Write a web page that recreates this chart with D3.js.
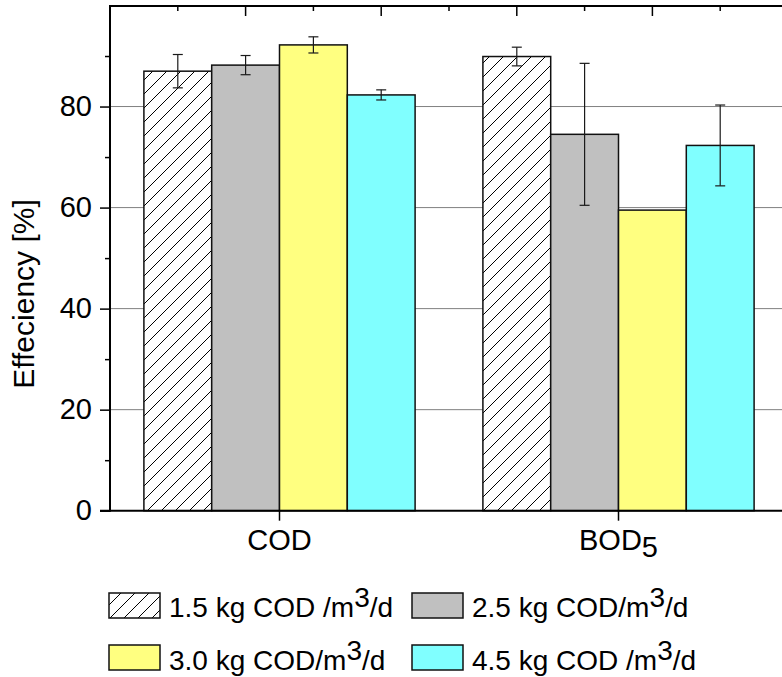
<!DOCTYPE html>
<html>
<head>
<meta charset="utf-8">
<script src="https://cdn.jsdelivr.net/npm/d3@7"></script>
<style>
  html, body { margin: 0; padding: 0; background: #fff; }
  svg { display: block; font-family: "Liberation Sans", Arial, sans-serif; }
</style>
</head>
<body>
<svg id="chart" width="782" height="677"></svg>
<script>
// ---- data ----
const categories = ["COD", "BOD5"];
const seriesLabels = ["1.5 kg COD /m^3/d", "2.5 kg COD/m^3/d", "3.0 kg COD/m^3/d", "4.5 kg COD /m^3/d"];
const load15 = [87.0, 89.9];
const load25 = [88.2, 74.5];
const load30 = [92.2, 59.5];
const load45 = [82.3, 72.3];
const err15 = [3.3, 1.85];
const err25 = [1.9, 14.05];
const err30 = [1.6, 0];
const err45 = [1.0, 8.0];
const yTicks = [0, 20, 40, 60, 80];
const yMinorTicks = [10, 30, 50, 70, 90];
const yLabel = "Effeciency [%]";

(function () {
const seriesValues = [load15, load25, load30, load45];
const seriesErrors = [err15, err25, err30, err45];
const seriesFills = ["url(#hatch)", "#C0C0C0", "#FFFF80", "#80FFFF"];

// ---- layout ----
const svg = d3.select("#chart");
const W = 782;
const pLeft = 110, pTop = 5.5, pBottom = 510.7, rightEnd = 788;

const defs = svg.append("defs");
const pat = defs.append("pattern").attr("id", "hatch")
  .attr("patternUnits", "userSpaceOnUse").attr("width", 14).attr("height", 14);
pat.append("rect").attr("width", 14).attr("height", 14).attr("fill", "#fff");
pat.append("path").attr("d", "M0,14 L14,0 M-4,4 L4,-4 M10,18 L18,10")
  .attr("stroke", "#000").attr("stroke-width", 1);

const x = d3.scaleBand().domain(categories).range([pLeft, rightEnd])
  .paddingInner(0.2).paddingOuter(0.1);
const xs = d3.scaleBand().domain(d3.range(seriesLabels.length)).range([0, x.bandwidth()]);
const y = d3.scaleLinear().domain([0, 100]).range([pBottom, pTop]);

// gridlines
svg.append("g").selectAll("line").data(yTicks.filter(d => d > 0)).join("line")
  .attr("x1", pLeft).attr("x2", W).attr("y1", d => y(d)).attr("y2", d => y(d))
  .attr("stroke", "#808080").attr("stroke-width", 1);

// bars
const rows = [];
categories.forEach((c, ci) => {
  seriesValues.forEach((vals, si) => {
    rows.push({ c, si, v: vals[ci], e: seriesErrors[si][ci] });
  });
});
svg.append("g").selectAll("rect").data(rows).join("rect")
  .attr("x", d => x(d.c) + xs(d.si))
  .attr("y", d => y(d.v))
  .attr("width", xs.bandwidth())
  .attr("height", d => y(0) - y(d.v))
  .attr("fill", d => seriesFills[d.si])
  .attr("stroke", "#111").attr("stroke-width", 1.5);

// error bars
const eg = svg.append("g").attr("stroke", "#1a1a1a").attr("stroke-width", 1.2);
rows.filter(d => d.e > 0).forEach(d => {
  const cx = x(d.c) + xs(d.si) + xs.bandwidth() / 2;
  const y1 = y(d.v + d.e), y2 = y(d.v - d.e);
  eg.append("line").attr("x1", cx).attr("x2", cx).attr("y1", y1).attr("y2", y2);
  eg.append("line").attr("x1", cx - 5).attr("x2", cx + 5).attr("y1", y1).attr("y2", y1);
  eg.append("line").attr("x1", cx - 5).attr("x2", cx + 5).attr("y1", y2).attr("y2", y2);
});

// left axis
const yAxis = svg.append("g").attr("transform", `translate(${pLeft},0)`)
  .call(d3.axisLeft(y).tickValues(yTicks).tickSize(10).tickPadding(8).tickFormat(d3.format("d")));
yAxis.select(".domain").remove();
yAxis.selectAll("line").attr("stroke", "#000").attr("stroke-width", 1.5);
yAxis.selectAll("text").attr("font-size", 29).attr("fill", "#000")
  .attr("font-family", "'Liberation Sans', Arial, sans-serif");
const yMinor = svg.append("g").attr("transform", `translate(${pLeft},0)`)
  .call(d3.axisLeft(y).tickValues(yMinorTicks).tickSize(5).tickFormat(""));
yMinor.select(".domain").remove();
yMinor.selectAll("line").attr("stroke", "#000").attr("stroke-width", 1.5);

svg.append("line").attr("x1", pLeft).attr("x2", pLeft).attr("y1", pTop).attr("y2", pBottom + 1)
  .attr("stroke", "#000").attr("stroke-width", 2);

// bottom axis
svg.append("line").attr("x1", 100).attr("x2", W).attr("y1", pBottom).attr("y2", pBottom)
  .attr("stroke", "#000").attr("stroke-width", 2);
const xAxis = svg.append("g").attr("transform", `translate(0,${pBottom})`)
  .call(d3.axisBottom(x).tickSize(10).tickFormat(""));
xAxis.select(".domain").remove();
xAxis.selectAll("line").attr("stroke", "#000").attr("stroke-width", 1.5);
categories.forEach(c => {
  const t = svg.append("text").attr("x", x(c) + x.bandwidth() / 2).attr("y", 550)
    .attr("text-anchor", "middle").attr("font-size", 29).attr("fill", "#000");
  const m = c.match(/^(.*?)(\d+)$/);
  if (m) {
    t.append("tspan").text(m[1]);
    t.append("tspan").attr("dy", 7).text(m[2]);
  } else {
    t.text(c);
  }
});

// top axis
const xt = d3.scaleLinear().domain([0, 10]).range([pLeft, rightEnd]);
svg.append("line").attr("x1", pLeft - 1).attr("x2", W).attr("y1", 6).attr("y2", 6)
  .attr("stroke", "#000").attr("stroke-width", 2);
svg.append("g").selectAll("line").data(d3.range(1, 10)).join("line")
  .attr("x1", d => xt(d)).attr("x2", d => xt(d))
  .attr("y1", 6).attr("y2", d => d % 2 === 0 ? 16 : 11)
  .attr("stroke", "#000").attr("stroke-width", 1.5);

// y label
svg.append("text").attr("transform", "translate(34,294) rotate(-90)")
  .attr("text-anchor", "middle").attr("font-size", 30).attr("fill", "#000").text(yLabel);

// legend
const legPos = [
  { sx: 109, sy: 593, tx: 169, ty: 617 },
  { sx: 412, sy: 593, tx: 472, ty: 617 },
  { sx: 109, sy: 645, tx: 169, ty: 670 },
  { sx: 412, sy: 645, tx: 472, ty: 670 }
];
const leg = svg.append("g");
seriesLabels.forEach((lab, i) => {
  const p = legPos[i];
  leg.append("rect").attr("x", p.sx).attr("y", p.sy).attr("width", 51).attr("height", 25)
    .attr("fill", seriesFills[i]).attr("stroke", "#111").attr("stroke-width", 1.5);
  const parts = lab.split("^3");
  const t = leg.append("text").attr("x", p.tx).attr("y", p.ty).attr("font-size", 28).attr("fill", "#000");
  t.append("tspan").text(parts[0]);
  t.append("tspan").attr("dy", -10.5).text("3");
  t.append("tspan").attr("dy", 10.5).text(parts[1]);
});
})();
</script>
</body>
</html>
